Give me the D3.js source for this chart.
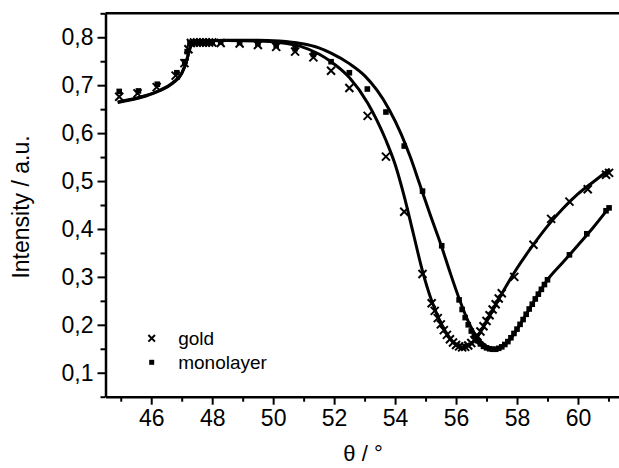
<!DOCTYPE html>
<html>
<head>
<meta charset="utf-8">
<script src="https://cdn.jsdelivr.net/npm/d3@7"></script>
<style>
    body { margin: 0; background: #fff; }
    text { font-family: Arial, "Liberation Sans", sans-serif; fill: #000; }
</style>
</head>
<body>
<div class="main_content"></div>
<script>
// measured reflectivity, bare gold film (x markers)
let goldPoints = [
    [44.95, 0.676], [45.55, 0.683], [46.18, 0.696], [46.8, 0.72], [47.09, 0.746], [47.22, 0.775],
    [47.3, 0.788], [47.4, 0.789], [47.5, 0.789], [47.6, 0.789], [47.7, 0.789], [47.8, 0.789],
    [47.9, 0.789], [48.0, 0.789], [48.28, 0.788], [48.9, 0.787], [49.5, 0.784], [50.1, 0.780],
    [50.72, 0.770], [51.32, 0.758], [51.9, 0.730], [52.5, 0.694], [53.1, 0.636], [53.7, 0.551],
    [54.3, 0.436], [54.9, 0.306], [55.2, 0.245], [55.3, 0.229], [55.4, 0.214], [55.5, 0.201],
    [55.6, 0.189], [55.7, 0.179], [55.8, 0.170], [55.9, 0.163], [56.0, 0.158], [56.1, 0.155],
    [56.2, 0.153], [56.3, 0.154], [56.4, 0.157], [56.5, 0.162], [56.6, 0.168], [56.7, 0.176],
    [56.8, 0.186], [56.9, 0.197], [57.0, 0.208], [57.1, 0.220], [57.2, 0.232], [57.3, 0.243],
    [57.4, 0.255], [57.5, 0.266], [57.91, 0.30], [58.54, 0.367], [59.12, 0.421], [59.72, 0.457],
    [60.32, 0.483], [60.92, 0.513], [61.02, 0.517]
];

// measured reflectivity, gold + monolayer (square markers)
let monoPoints = [
    [44.95, 0.687], [45.58, 0.688], [46.2, 0.702], [46.84, 0.726], [47.1, 0.749], [47.18, 0.77],
    [47.27, 0.788], [47.4, 0.79], [47.5, 0.79], [47.6, 0.79], [47.7, 0.79], [47.8, 0.79],
    [47.9, 0.79], [48.0, 0.79], [48.28, 0.790], [48.9, 0.789], [49.5, 0.787], [50.1, 0.783],
    [50.72, 0.776], [51.32, 0.764], [51.9, 0.749], [52.5, 0.726], [53.09, 0.692], [53.7, 0.644],
    [54.3, 0.573], [54.9, 0.479], [55.53, 0.365], [56.1, 0.252], [56.2, 0.232], [56.3, 0.215],
    [56.4, 0.200], [56.5, 0.187], [56.6, 0.176], [56.7, 0.167], [56.8, 0.160], [56.9, 0.155],
    [57.0, 0.152], [57.1, 0.150], [57.2, 0.149], [57.3, 0.149], [57.4, 0.151], [57.5, 0.154],
    [57.6, 0.159], [57.7, 0.165], [57.8, 0.173], [57.9, 0.182], [58.0, 0.191], [58.1, 0.201],
    [58.2, 0.211], [58.3, 0.222], [58.4, 0.233], [58.5, 0.243], [58.6, 0.254], [58.7, 0.264],
    [58.8, 0.274], [58.9, 0.284], [59.0, 0.294], [59.72, 0.346], [60.29, 0.39], [60.92, 0.438],
    [61.02, 0.444]
];

// fitted curves (solid lines)
let goldFit = [
    [44.9, 0.664], [45.3, 0.669], [45.8, 0.677], [46.3, 0.689], [46.7, 0.704], [47.0, 0.724],
    [47.15, 0.748], [47.25, 0.772], [47.33, 0.787], [47.5, 0.791], [48.5, 0.793], [49.5, 0.792],
    [50.2, 0.789], [50.9, 0.781], [51.5, 0.765], [51.9, 0.749], [52.5, 0.716], [53.1, 0.663],
    [53.7, 0.585], [54.0, 0.535], [54.3, 0.468], [54.6, 0.390], [54.9, 0.312], [55.2, 0.250],
    [55.5, 0.204], [55.8, 0.172], [56.0, 0.158], [56.2, 0.153], [56.4, 0.156], [56.7, 0.175],
    [57.0, 0.207], [57.5, 0.265], [58.0, 0.318], [58.5, 0.364], [59.0, 0.406], [59.5, 0.442],
    [60.0, 0.473], [60.5, 0.498], [61.05, 0.525]
];
let monoFit = [
    [44.9, 0.665], [45.3, 0.670], [45.8, 0.678], [46.3, 0.690], [46.7, 0.705], [47.0, 0.725],
    [47.15, 0.749], [47.25, 0.773], [47.33, 0.788], [47.5, 0.792], [48.5, 0.794], [49.5, 0.794],
    [50.2, 0.792], [50.9, 0.787], [51.5, 0.778], [51.9, 0.767], [52.5, 0.745], [53.0, 0.720],
    [53.4, 0.690], [53.8, 0.650], [54.2, 0.598], [54.5, 0.550], [54.8, 0.495], [55.15, 0.430],
    [55.5, 0.368], [55.8, 0.310], [56.1, 0.255], [56.4, 0.207], [56.7, 0.173], [57.0, 0.155],
    [57.25, 0.149], [57.5, 0.153], [57.8, 0.172], [58.1, 0.201], [58.5, 0.243], [59.0, 0.294],
    [59.5, 0.330], [60.0, 0.366], [60.5, 0.403], [61.05, 0.447]
];

let xTicks = [46, 48, 50, 52, 54, 56, 58, 60];
let xMinorTicks = [45, 47, 49, 51, 53, 55, 57, 59, 61];
let yTicks = [0.1, 0.2, 0.3, 0.4, 0.5, 0.6, 0.7, 0.8];
let yMinorTicks = [0.05, 0.15, 0.25, 0.35, 0.45, 0.55, 0.65, 0.75, 0.85];
let legendLabels = ['gold', 'monolayer'];

let width = 619, height = 468;
let margin = {top: 13.3, left: 105.5, bottom: 71.3};
let plotW = 518.2;
let plotH = height - margin.top - margin.bottom;

let svg = d3.select('.main_content').append('svg')
    .attr('width', width)
    .attr('height', height);

let x = d3.scaleLinear().domain([44.5, 61.5]).range([margin.left, margin.left + plotW]);
let y = d3.scaleLinear().domain([0.05, 0.85]).range([margin.top + plotH, margin.top]);

let comma = d3.formatLocale({decimal: ',', thousands: '.', grouping: [3], currency: ['', '']}).format('.1f');

// fit lines
let line = d3.line()
    .x(d => x(d[0]))
    .y(d => y(d[1]))
    .curve(d3.curveMonotoneX);

svg.selectAll('path.fit')
    .data([goldFit, monoFit])
    .enter().append('path')
    .attr('class', 'fit')
    .attr('d', line)
    .style('fill', 'none')
    .style('stroke', '#000')
    .style('stroke-width', 3);

// markers
function cross(s) {
    return `M ${-s} ${-s} L ${s} ${s} M ${-s} ${s} L ${s} ${-s}`;
}

svg.append('g').selectAll('path')
    .data(goldPoints)
    .enter().append('path')
    .attr('transform', d => 'translate(' + x(d[0]) + ',' + y(d[1]) + ')')
    .attr('d', cross(4))
    .style('stroke', '#000')
    .style('stroke-width', 2);

svg.append('g').selectAll('rect')
    .data(monoPoints)
    .enter().append('rect')
    .attr('x', d => x(d[0]) - 2.8)
    .attr('y', d => y(d[1]) - 2.8)
    .attr('width', 5.6)
    .attr('height', 5.6)
    .style('fill', '#000');

// axes
svg.append('g')
    .attr('transform', 'translate(0,' + (margin.top + plotH) + ')')
    .call(d3.axisBottom(x).tickValues(xTicks).tickSize(8).tickSizeOuter(0).tickPadding(5));
svg.append('g')
    .attr('transform', 'translate(0,' + (margin.top + plotH) + ')')
    .call(d3.axisBottom(x).tickValues(xMinorTicks).tickSize(5).tickFormat(''))
    .select('.domain').remove();

svg.append('g')
    .attr('transform', 'translate(' + margin.left + ',0)')
    .call(d3.axisLeft(y).tickValues(yTicks).tickSize(8).tickSizeOuter(0).tickPadding(4).tickFormat(comma));
svg.append('g')
    .attr('transform', 'translate(' + margin.left + ',0)')
    .call(d3.axisLeft(y).tickValues(yMinorTicks).tickSize(5).tickFormat(''))
    .select('.domain').remove();

svg.selectAll('.domain').style('stroke-width', 2.5);
svg.selectAll('.tick line').style('stroke-width', 2);
svg.selectAll('.tick text')
    .style('font-size', '23px')
    .style('font-family', 'Arial, "Liberation Sans", sans-serif');

// top frame line
svg.append('line')
    .attr('x1', margin.left)
    .attr('x2', margin.left + plotW)
    .attr('y1', margin.top)
    .attr('y2', margin.top)
    .style('stroke', '#000')
    .style('stroke-width', 2.5);

// axis titles
svg.append('text')
    .attr('transform', 'translate(28.5,' + (margin.top + plotH / 2 + 2) + ') rotate(-90)')
    .attr('text-anchor', 'middle')
    .style('font-size', '23px')
    .text('Intensity / a.u.');

svg.append('text')
    .attr('x', 363)
    .attr('y', 461)
    .attr('text-anchor', 'middle')
    .style('font-size', '22px')
    .text('θ / °');

// legend
let legend = svg.append('g').attr('transform', 'translate(151.7,338.3)');
legend.append('path')
    .attr('d', cross(3.3))
    .style('stroke', '#000')
    .style('stroke-width', 2);
legend.append('rect')
    .attr('x', -2.5).attr('y', 24 - 2.5)
    .attr('width', 5).attr('height', 5)
    .style('fill', '#000');
legend.selectAll('text')
    .data(legendLabels)
    .enter().append('text')
    .attr('x', 26.5)
    .attr('y', (d, i) => i * 24 + 6.5)
    .style('font-size', '19px')
    .text(d => d);
</script>
</body>
</html>
